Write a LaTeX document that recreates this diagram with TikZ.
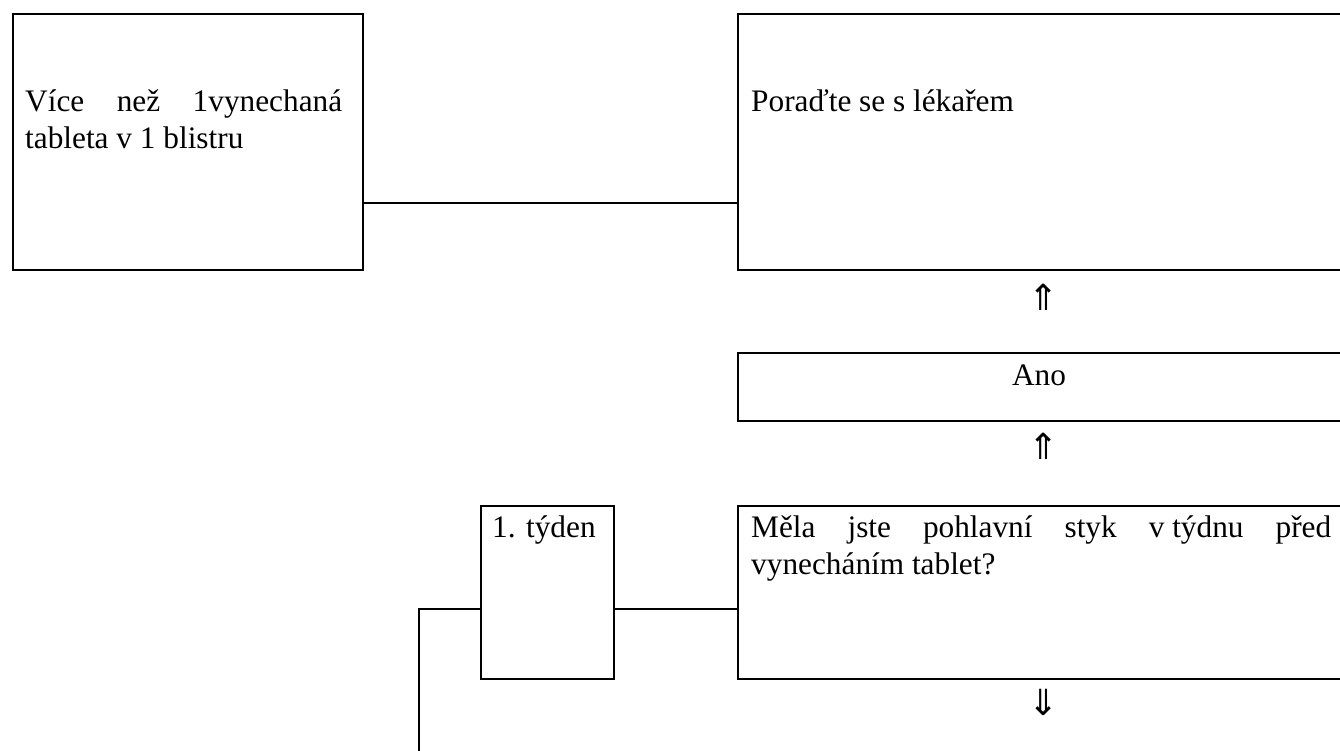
\documentclass[tikz,border=0pt]{standalone}
\usepackage{fontspec}
\setmainfont{Liberation Serif}
\newfontfamily\arrowfont{DejaVu Sans}
\begin{document}
\begin{tikzpicture}[x=1pt,y=-1pt,
  box/.style={draw, line width=1.8pt, anchor=north west, inner sep=0pt},
  txt/.style={inner sep=0pt, font=\fontsize{31.3}{37}\selectfont},
  para/.style={txt, align=justify, anchor=base west,
    execute at begin node={\hyphenpenalty=10000\exhyphenpenalty=10000\tolerance=10000}},
  arr/.style={inner sep=0pt, font=\arrowfont\fontsize{36}{40}\selectfont},
  link/.style={line width=1.8pt}]
\clip (0,0) rectangle (1340,750);
\useasboundingbox (0,0) rectangle (1340,750);
% boxes
\node[box, minimum width=350pt, minimum height=256pt] (a) at (12,13) {};
\node[box, minimum width=604pt, minimum height=256pt] (b) at (737,13) {};
\node[box, minimum width=604pt, minimum height=68pt] (ano) at (737,352) {};
\node[box, minimum width=133pt, minimum height=173pt] (t) at (480,505) {};
\node[box, minimum width=604pt, minimum height=173pt] (q) at (737,505) {};
% texts
\node[para, text width=317pt] (atext) at (25,111) {Více než 1vynechaná tableta v 1 blistru};
\node[txt, anchor=base west] (btext) at (751,111) {Poraďte se s lékařem};
\node[txt, anchor=base] (anotext) at (1039,385) {Ano};
\node[txt, anchor=base west] (ttext) at (492,537) {1. týden};
\node[para, text width=580pt] (qtext) at (751,537) {Měla jste pohlavní styk \mbox{v týdnu} před vynecháním tablet?};
% arrows
\node[arr] (up1) at (1044,297) {⇑};
\node[arr] (up2) at (1044,446) {⇑};
\node[arr] (down1) at (1044,702) {⇓};
% connectors
\coordinate (c1) at (0,203);
\coordinate (c2) at (0,609);
\coordinate (bend) at (419,609);
\coordinate (lend) at (419,755);
\draw[link] (a.east |- c1) -- (b.west |- c1);
\draw[link] (t.east |- c2) -- (q.west |- c2);
\draw[link] (t.west |- c2) -- (bend) -- (lend);
\end{tikzpicture}
\end{document}
